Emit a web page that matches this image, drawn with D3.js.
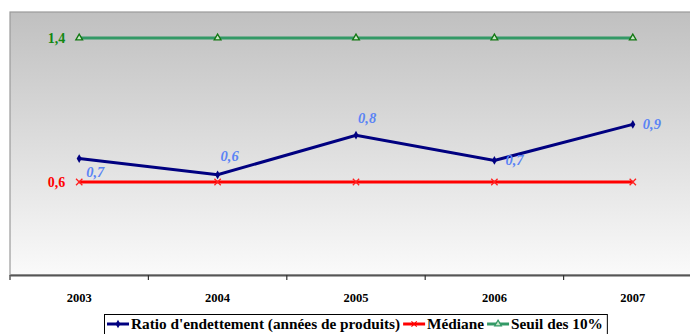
<!DOCTYPE html>
<html>
<head>
<meta charset="utf-8">
<script src="https://cdn.jsdelivr.net/npm/d3@7"></script>
<style>
  html, body { margin: 0; padding: 0; background: #ffffff; }
  svg { display: block; }
</style>
</head>
<body>
<svg id="chart" width="690" height="334"></svg>
<script>
// Années
const years = ["2003", "2004", "2005", "2006", "2007"];
// Ratio d'endettement (années de produits)
const ratio = [0.73, 0.64, 0.86, 0.72, 0.92];
// Médiane
const mediane = [0.6, 0.6, 0.6, 0.6, 0.6];
// Seuil des 10%
const seuil = [1.4, 1.4, 1.4, 1.4, 1.4];
// Étiquettes affichées
const ratioLabels = ["0,7", "0,6", "0,8", "0,7", "0,9"];
const medianeLabel = "0,6";
const seuilLabel = "1,4";
const seriesNames = ["Ratio d'endettement (années de produits)", "Médiane", "Seuil des 10%"];

const FONT = "'Liberation Serif', 'Times New Roman', Times, serif";

const svg = d3.select("#chart");
const plot = { left: 10, top: 12, right: 702, bottom: 275 };

const x = d3.scaleBand().domain(years).range([plot.left, plot.right]);
const y = d3.scaleLinear().domain([0.0833, 1.5444]).range([plot.bottom, plot.top]);
const cx = d => x(d) + x.bandwidth() / 2;

// Fond dégradé de la zone de tracé
const defs = svg.append("defs");
const grad = defs.append("linearGradient").attr("id", "bg").attr("x1", 0).attr("y1", 0).attr("x2", 0).attr("y2", 1);
grad.append("stop").attr("offset", "0%").attr("stop-color", "#c0c0c0");
grad.append("stop").attr("offset", "100%").attr("stop-color", "#fafafa");

svg.append("rect")
  .attr("x", plot.left).attr("y", plot.top)
  .attr("width", plot.right - plot.left).attr("height", plot.bottom - plot.top)
  .attr("fill", "url(#bg)")
  .attr("stroke", "#9a9a9a").attr("stroke-width", 1.2);

// Axe des abscisses
const xAxis = d3.axisBottom(x).tickSize(0).tickFormat(d => d);
const gx = svg.append("g").attr("transform", `translate(0,${plot.bottom})`).call(xAxis)
  .attr("font-family", FONT).attr("font-size", 12.5).attr("font-weight", "bold");
gx.select(".domain").attr("stroke", "#555").attr("stroke-width", 2);
gx.selectAll(".tick text")
  .attr("dy", 0).attr("y", 27).attr("fill", "#000");
// Graduations aux limites des catégories
const bounds = years.map(d => x(d)).concat([plot.right]);
svg.append("g").selectAll("line").data(bounds).join("line")
  .attr("x1", d => d).attr("x2", d => d)
  .attr("y1", plot.bottom).attr("y2", plot.bottom + 5)
  .attr("stroke", "#333").attr("stroke-width", 1.2);

const line = d3.line().x((d, i) => cx(years[i])).y(d => y(d));

// Seuil des 10%
svg.append("path").datum(seuil).attr("d", line)
  .attr("fill", "none").attr("stroke", "#339966").attr("stroke-width", 3);
const tri = d3.symbol().type(d3.symbolTriangle).size(20);
svg.append("g").selectAll("path").data(seuil).join("path")
  .attr("d", tri)
  .attr("transform", (d, i) => `translate(${cx(years[i])},${y(d)})`)
  .attr("fill", "#c8e6c8").attr("stroke", "#117711").attr("stroke-width", 1.3);

// Médiane
svg.append("path").datum(mediane).attr("d", line)
  .attr("fill", "none").attr("stroke", "#ff0000").attr("stroke-width", 3);
svg.append("g").selectAll("path").data(mediane).join("path")
  .attr("d", d3.symbol().type(d3.symbolX).size(28))
  .attr("transform", (d, i) => `translate(${cx(years[i])},${y(d)})`)
  .attr("fill", "none").attr("stroke", "#ff2020").attr("stroke-width", 1.3);

// Ratio d'endettement
svg.append("path").datum(ratio).attr("d", line)
  .attr("fill", "none").attr("stroke", "#000080").attr("stroke-width", 3);
svg.append("g").selectAll("path").data(ratio).join("path")
  .attr("d", d3.symbol().type(d3.symbolDiamond).size(22))
  .attr("transform", (d, i) => `translate(${cx(years[i])},${y(d)})`)
  .attr("fill", "#000080");

// Étiquettes de valeurs
const labelOffsets = [[7, 18], [3, -14], [2, -12], [11, 5], [10, 5]];
svg.append("g").selectAll("text").data(ratio).join("text")
  .attr("x", (d, i) => cx(years[i]) + labelOffsets[i][0])
  .attr("y", (d, i) => y(d) + labelOffsets[i][1])
  .attr("font-family", FONT).attr("font-weight", "bold")
  .attr("font-size", 14.5).attr("font-style", "italic")
  .attr("fill", "#5b84f5")
  .text((d, i) => ratioLabels[i]);

svg.append("text").attr("x", cx(years[0]) - 14).attr("y", y(seuil[0]) + 5)
  .attr("font-family", FONT).attr("font-weight", "bold")
  .attr("text-anchor", "end").attr("font-size", 14).attr("fill", "#118811").text(seuilLabel);
svg.append("text").attr("x", cx(years[0]) - 14).attr("y", y(mediane[0]) + 5)
  .attr("font-family", FONT).attr("font-weight", "bold")
  .attr("text-anchor", "end").attr("font-size", 14).attr("fill", "#ff0000").text(medianeLabel);

// Légende
const leg = svg.append("g");
const legBox = leg.append("rect").attr("x", 104.5).attr("y", 314.5).attr("height", 30)
  .attr("fill", "#fff").attr("stroke", "#000").attr("stroke-width", 1);
const items = [
  { name: seriesNames[0], color: "#000080", sym: d3.symbolDiamond, fill: "#000080" },
  { name: seriesNames[1], color: "#ff0000", sym: d3.symbolX, fill: "none" },
  { name: seriesNames[2], color: "#339966", sym: d3.symbolTriangle, fill: "#c8e6c8" }
];
let lx = 107;
const ly = 324;
items.forEach(it => {
  leg.append("line").attr("x1", lx).attr("x2", lx + 22).attr("y1", ly).attr("y2", ly)
    .attr("stroke", it.color).attr("stroke-width", 3);
  leg.append("path").attr("d", d3.symbol().type(it.sym).size(20))
    .attr("transform", `translate(${lx + 11},${ly})`)
    .attr("fill", it.fill).attr("stroke", it.fill === "#000080" ? "none" : it.color).attr("stroke-width", 1.2);
  const t = leg.append("text").attr("x", lx + 24).attr("y", ly + 5)
    .attr("font-family", FONT).attr("font-weight", "bold")
    .attr("font-size", 15.3).attr("fill", "#000").text(it.name);
  lx += 24 + t.node().getComputedTextLength() + 3;
});
legBox.attr("width", lx - 104 + 1);
</script>
</body>
</html>
